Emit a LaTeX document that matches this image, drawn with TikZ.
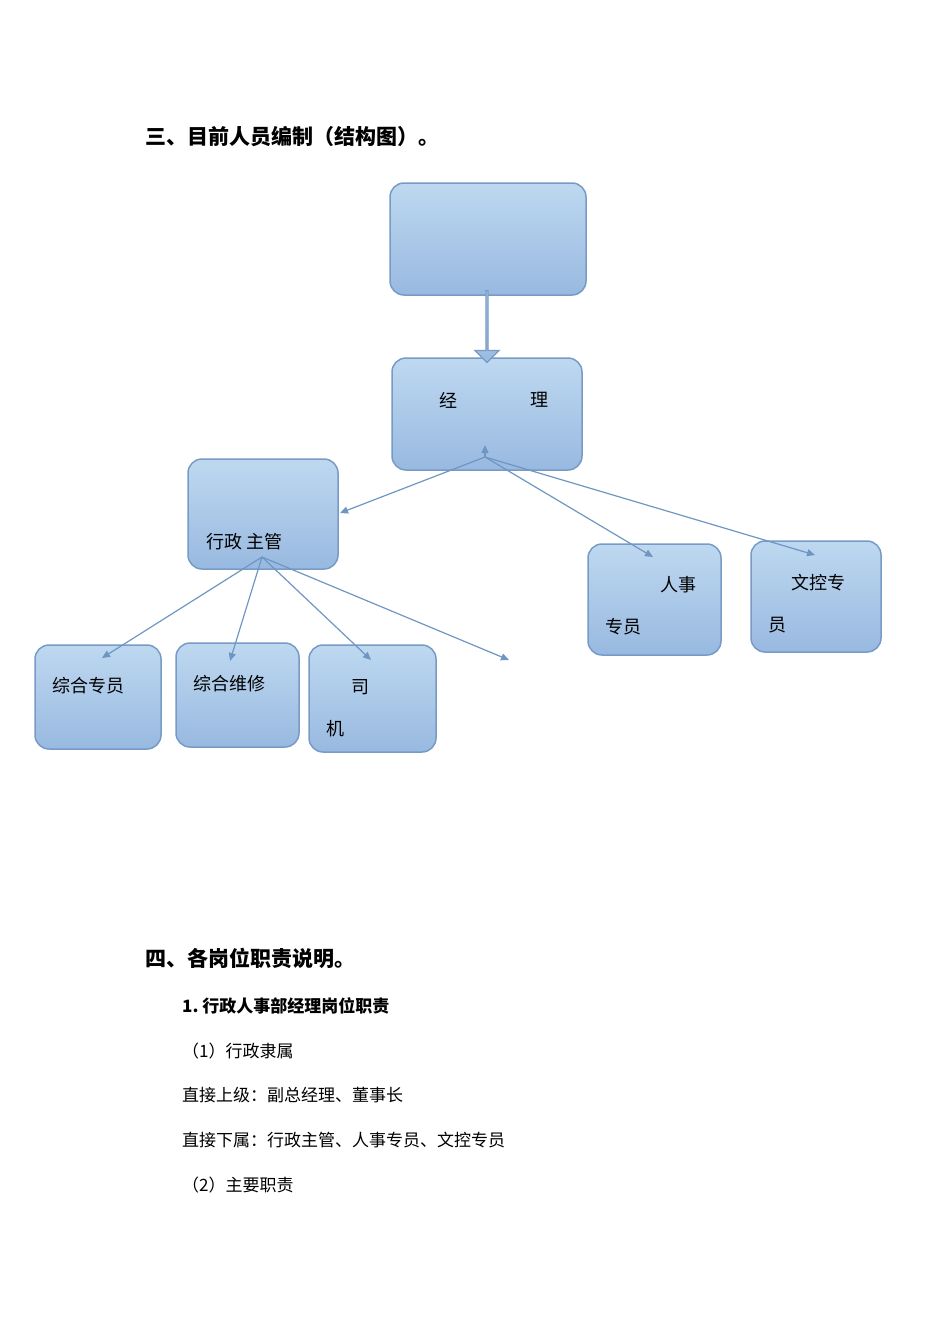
\documentclass[tikz,border=0pt]{standalone}
\usepackage{fontspec}
\newfontfamily\cjk{Noto Sans CJK SC}
\usetikzlibrary{shapes.arrows,arrows.meta}
\definecolor{boxtop}{RGB}{190,216,240}
\definecolor{boxbot}{RGB}{152,185,224}
\definecolor{boxline}{RGB}{120,155,198}
\definecolor{arr}{RGB}{110,150,195}
\tikzset{
 orgbox/.style={rounded corners=14pt,draw=boxline,line width=1.5pt,top color=boxtop,bottom color=boxbot},
 lnk/.style={draw=arr,line width=1.2pt,-{Triangle[length=8pt,width=7pt]}},
 txt/.style={font=\cjk\fontsize{18pt}{22pt}\selectfont,inner sep=0pt,anchor=west},
 head/.style={font=\cjk\bfseries\fontsize{21pt}{25pt}\selectfont,inner sep=0pt,anchor=west},
 body/.style={font=\cjk\fontsize{17pt}{20pt}\selectfont,inner sep=0pt,anchor=west}
}
\begin{document}
\begin{tikzpicture}[x=1pt,y=-1pt]
\useasboundingbox (0,0) rectangle (950,1344);
\node[head] (h1) at (145,137) {三、目前人员编制（结构图）。};
\draw[orgbox] (390,183) rectangle (586,295);
\node (top) at (488,239) {};
\draw[orgbox] (392,358) rectangle (582,470);
\node[txt] (jl1) at (439,400) {经};
\node[txt] (jl2) at (530,400) {理};
\draw[orgbox] (188,459) rectangle (338,569);
\node[txt] (xz) at (206,542) {行政\ 主管};
\draw[orgbox] (588,544) rectangle (721,655);
\node[txt] (rs1) at (660,585) {人事};
\node[txt] (rs2) at (605,627) {专员};
\draw[orgbox] (751,541) rectangle (881,652);
\node[txt] (wk1) at (791,583) {文控专};
\node[txt] (wk2) at (768,625) {员};
\draw[orgbox] (35,645) rectangle (161,749);
\node[txt] (zh) at (52,686) {综合专员};
\draw[orgbox] (176,643) rectangle (299,747);
\node[txt] (wx) at (193,684) {综合维修};
\draw[orgbox] (309,645) rectangle (436,752);
\node[txt] (sj1) at (351,687) {司};
\node[txt] (sj2) at (326,729) {机};
% block arrow
\node[single arrow,draw=boxline,line width=1.2pt,top color=boxtop,bottom color=boxbot,shape border rotate=270,minimum height=72pt,minimum width=24pt,single arrow head extend=6pt,single arrow tip angle=90,inner sep=0pt] (barrow) at (487,326) {};
% connectors
\coordinate (hubA) at (485,457);
\coordinate (hubB) at (262,557);
\coordinate (e1) at (340,513);
\coordinate (e2) at (653,557);
\coordinate (e3) at (815,555);
\coordinate (e4) at (102,658);
\coordinate (e5) at (230,661);
\coordinate (e6) at (371,660);
\coordinate (e7) at (509,660);
\coordinate (up) at (485,445);
\draw[lnk] (hubA) -- (e1);
\draw[lnk] (hubA) -- (e2);
\draw[lnk] (hubA) -- (e3);
\draw[lnk] (hubA) -- (up);
\draw[lnk] (hubB) -- (e4);
\draw[lnk] (hubB) -- (e5);
\draw[lnk] (hubB) -- (e6);
\draw[lnk] (hubB) -- (e7);
\node[head] (h2) at (145,958) {四、各岗位职责说明。};
\node[body,font=\cjk\bfseries\fontsize{17pt}{20pt}\selectfont] (t1) at (182,1006) {1.\ 行政人事部经理岗位职责};
\node[body] (t2) at (182,1051) {（1）行政隶属};
\node[body] (t3) at (182,1095) {直接上级：副总经理、董事长};
\node[body] (t4) at (182,1140) {直接下属：行政主管、人事专员、文控专员};
\node[body] (t5) at (182,1185) {（2）主要职责};
\end{tikzpicture}
\end{document}
